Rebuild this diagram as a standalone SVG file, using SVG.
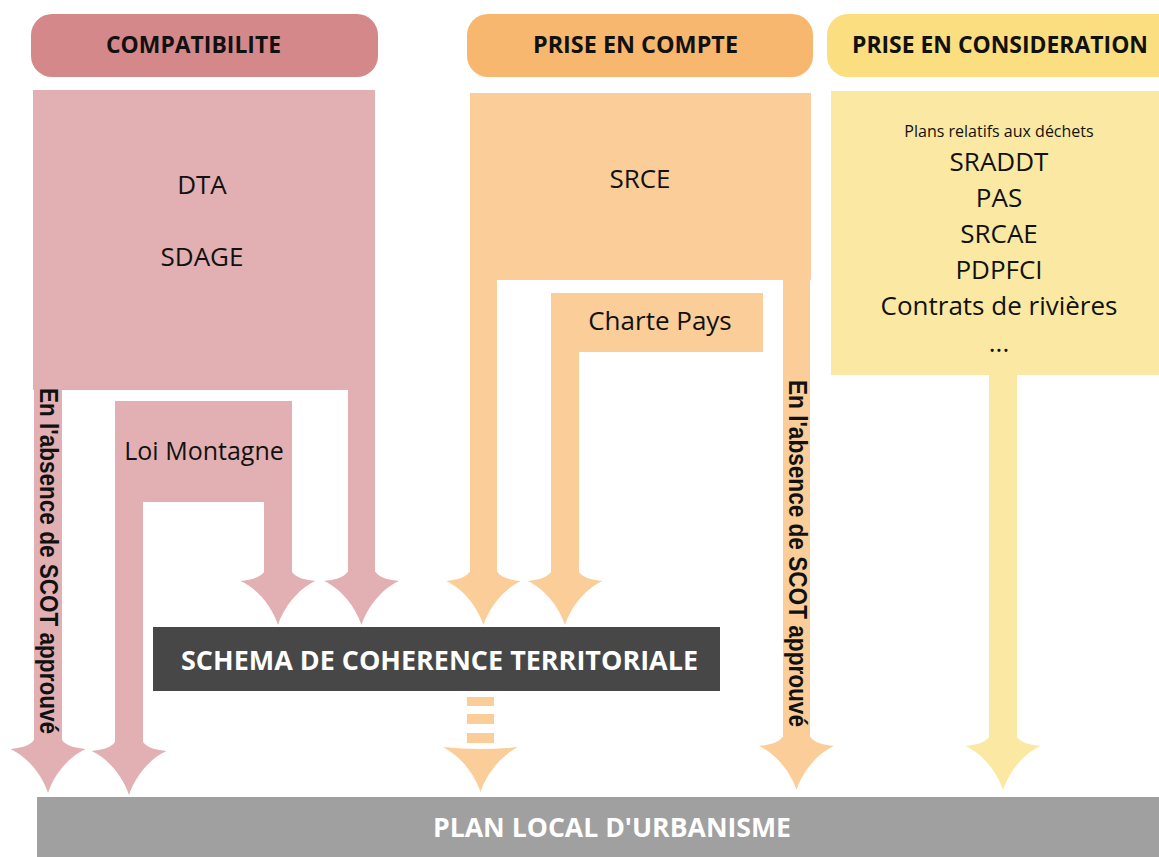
<svg xmlns="http://www.w3.org/2000/svg" xmlns:xlink="http://www.w3.org/1999/xlink" width="1159" height="857" viewBox="0 0 1159 857">
  <defs>
    <style>
      .hdr { font-family: "Open Sans", "Noto Sans", sans-serif; font-weight: 700; font-size: 23px; fill: #111; text-anchor: middle; }
      .lbl { font-family: "Open Sans", "Noto Sans", sans-serif; font-weight: 400; font-size: 26px; fill: #111; text-anchor: middle; }
      .small { font-family: "Open Sans", "Noto Sans", sans-serif; font-weight: 400; font-size: 16px; fill: #111; text-anchor: middle; }
      .big { font-family: "Open Sans", "Noto Sans", sans-serif; font-weight: 700; font-size: 26px; fill: #fff; text-anchor: middle; }
      .rot { font-family: "Liberation Sans", Arial, sans-serif; font-weight: 700; font-size: 25px; fill: #111; }
      .pinkPill { fill: #d5888a; }
      .orangePill { fill: #f8b76e; }
      .yellowPill { fill: #fade80; }
      .pink { fill: #e2b0b2; }
      .orange { fill: #fbce99; }
      .yellow { fill: #fbe9a3; }
    </style>
    <path id="head" d="M -14,-53 C -18,-47 -28,-45 -37.5,-44 C -20,-36 -6,-18 0,0 C 6,-18 20,-36 37.5,-44 C 28,-45 18,-47 14,-53 Z"/>
    <path id="headPlain" d="M -37.5,-45 Q 0,-41 37.5,-45 C 20,-36 6,-18 0,0 C -6,-18 -20,-36 -37.5,-45 Z"/>
  </defs>

  <rect width="1159" height="857" fill="#ffffff"/>

  <!-- Headers -->
  <g id="header-compatibilite">
    <rect class="pinkPill" x="31" y="14" width="347" height="63" rx="21"/>
    <text class="hdr" x="193.5" y="53" textLength="175" lengthAdjust="spacingAndGlyphs">COMPATIBILITE</text>
  </g>
  <g id="header-prise-en-compte">
    <rect class="orangePill" x="467" y="14" width="346" height="63" rx="21"/>
    <text class="hdr" x="635.5" y="53" textLength="205" lengthAdjust="spacingAndGlyphs">PRISE EN COMPTE</text>
  </g>
  <g id="header-prise-en-consideration">
    <rect class="yellowPill" x="827" y="14" width="360" height="63" rx="21"/>
    <text class="hdr" x="1000" y="53" textLength="296" lengthAdjust="spacingAndGlyphs">PRISE EN CONSIDERATION</text>
  </g>

  <!-- Connectors (shafts and arrowheads) -->
  <g id="connectors">
    <!-- pink -->
    <rect class="pink" x="34" y="380" width="28" height="372"/>
    <use xlink:href="#head" href="#head" class="pink" x="48" y="793"/>
    <rect class="pink" x="115" y="495" width="28" height="258"/>
    <use xlink:href="#head" href="#head" class="pink" x="129" y="795"/>
    <rect class="pink" x="264" y="495" width="28" height="88"/>
    <use xlink:href="#head" href="#head" class="pink" x="278" y="625"/>
    <rect class="pink" x="348" y="380" width="27" height="203"/>
    <use xlink:href="#head" href="#head" class="pink" x="361.5" y="625"/>
    <!-- orange -->
    <rect class="orange" x="470" y="270" width="27" height="313"/>
    <use xlink:href="#head" href="#head" class="orange" x="483.5" y="625"/>
    <rect class="orange" x="551" y="345" width="28" height="238"/>
    <use xlink:href="#head" href="#head" class="orange" x="565" y="625"/>
    <rect class="orange" x="783" y="270" width="27" height="472"/>
    <use xlink:href="#head" href="#head" class="orange" x="796.5" y="790"/>
    <!-- dashed orange from SCOT -->
    <rect class="orange" x="467" y="697" width="27" height="9"/>
    <rect class="orange" x="467" y="714" width="27" height="10"/>
    <rect class="orange" x="467" y="733" width="27" height="10"/>
    <use xlink:href="#headPlain" href="#headPlain" class="orange" x="480.5" y="792"/>
    <!-- yellow -->
    <rect class="yellow" x="989" y="370" width="28" height="375"/>
    <use xlink:href="#head" href="#head" class="yellow" x="1003" y="790"/>
  </g>

  <!-- Nodes -->
  <g id="node-dta-sdage">
    <rect class="pink" x="33" y="90" width="342" height="300"/>
    <text class="lbl" x="202" y="194">DTA</text>
    <text class="lbl" x="202" y="266">SDAGE</text>
  </g>
  <g id="node-loi-montagne">
    <rect class="pink" x="115" y="401" width="177" height="101"/>
    <text class="lbl" x="204" y="460" style="font-size:25px">Loi Montagne</text>
  </g>
  <g id="node-srce">
    <rect class="orange" x="470" y="93" width="341" height="187"/>
    <text class="lbl" x="640" y="188">SRCE</text>
  </g>
  <g id="node-charte-pays">
    <rect class="orange" x="551" y="293" width="212" height="59"/>
    <text class="lbl" x="660" y="330">Charte Pays</text>
  </g>
  <g id="node-plans">
    <rect class="yellow" x="831" y="91" width="328" height="284"/>
    <text class="small" x="999" y="137">Plans relatifs aux déchets</text>
    <text class="lbl" x="999" y="171">SRADDT</text>
    <text class="lbl" x="999" y="207">PAS</text>
    <text class="lbl" x="999" y="243">SRCAE</text>
    <text class="lbl" x="999" y="279">PDPFCI</text>
    <text class="lbl" x="999" y="315">Contrats de rivières</text>
    <text class="lbl" x="999" y="352">...</text>
  </g>

  <!-- Rotated labels on connectors -->
  <g id="labels-absence">
    <text class="rot" transform="translate(40,388) rotate(90)" textLength="346" lengthAdjust="spacingAndGlyphs">En l'absence de SCOT approuvé</text>
    <text class="rot" transform="translate(789,380) rotate(90)" textLength="347" lengthAdjust="spacingAndGlyphs">En l'absence de SCOT approuvé</text>
  </g>

  <g id="node-scot">
    <rect x="153" y="627" width="567" height="64" fill="#474747"/>
    <text class="big" x="439.5" y="670" textLength="517" lengthAdjust="spacingAndGlyphs">SCHEMA DE COHERENCE TERRITORIALE</text>
  </g>
  <g id="node-plu">
    <rect x="37" y="797" width="1122" height="60" fill="#a0a0a0"/>
    <text class="big" x="612" y="837" textLength="358" lengthAdjust="spacingAndGlyphs">PLAN LOCAL D'URBANISME</text>
  </g>
</svg>
